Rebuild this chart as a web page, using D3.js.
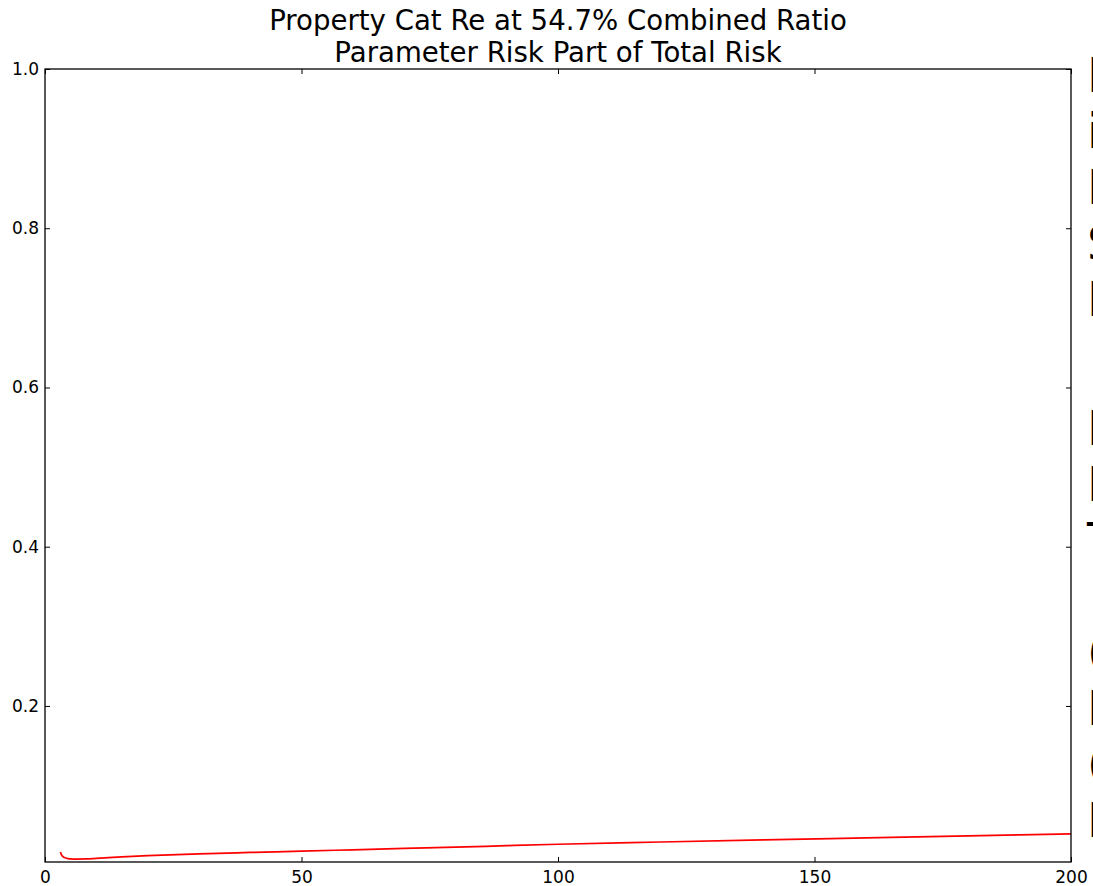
<!DOCTYPE html>
<html>
<head>
<meta charset="utf-8">
<script src="https://cdn.jsdelivr.net/npm/d3@7"></script>
<style>
  html, body { margin: 0; padding: 0; background: #fff; overflow: hidden; }
  svg { display: block; font-family: "DejaVu Sans", sans-serif; }
</style>
</head>
<body>
<svg id="chart" width="1093" height="886"></svg>
<script>
// Policy count (x) and parameter-risk share of total risk (y)
const policyCount = [3, 3.2, 3.5, 4, 4.5, 5, 6, 8, 10, 15, 20, 30, 40, 50, 60, 70, 80, 90, 100, 120, 140, 160, 180, 200];
const paramShare  = [0.0165, 0.0132, 0.0106, 0.0091, 0.0083, 0.0079, 0.0076, 0.0078, 0.0085, 0.0104, 0.0120, 0.0143, 0.0160, 0.0176, 0.0193, 0.0210, 0.0226, 0.0245, 0.0263, 0.0291, 0.0318, 0.0343, 0.0368, 0.0393];

const xTicks = [0, 50, 100, 150, 200];
const yTicks = [0.2, 0.4, 0.6, 0.8, 1.0];

const titleLines = ["Property Cat Re at 54.7% Combined Ratio", "Parameter Risk Part of Total Risk"];

// Side note text blocks running off the right edge of the figure
const noteBlockA = ["Parameter", "is", "Minor", "Share", "Here"];
const noteBlockB = ["Risk", "Rises", "To"];
const noteBlockC = ["(", "Based", "(", "Rows"];

const svg = d3.select("#chart");
const plot = { left: 45, right: 1071, top: 69, bottom: 862 };

const x = d3.scaleLinear().domain([0, 200]).range([plot.left, plot.right]);
const y = d3.scaleLinear().domain([0.004, 1.0]).range([plot.bottom, plot.top]);

// Title
svg.append("g").selectAll("text").data(titleLines).join("text")
  .attr("x", (plot.left + plot.right) / 2)
  .attr("y", (d, i) => 30 + i * 32)
  .attr("text-anchor", "middle")
  .attr("font-size", 27.6)
  .attr("fill", "#000")
  .text(d => d);

// Data line
const line = d3.line()
  .x((d, i) => x(policyCount[i]))
  .y(d => y(d))
  .curve(d3.curveMonotoneX);

svg.append("path")
  .datum(paramShare)
  .attr("fill", "none")
  .attr("stroke", "#ff0000")
  .attr("stroke-width", 1.7)
  .attr("d", line);

// Axes with inward ticks on all four sides
const tickLen = 5;
const fmtY = d3.format(".1f");

svg.append("g")
  .attr("transform", `translate(0,${plot.bottom})`)
  .call(d3.axisBottom(x).tickValues(xTicks).tickSize(-tickLen).tickPadding(9).tickFormat(d3.format("d")))
  .call(g => g.select(".domain").remove());

svg.append("g")
  .attr("transform", `translate(0,${plot.top})`)
  .call(d3.axisTop(x).tickValues(xTicks).tickSize(-tickLen).tickFormat(""))
  .call(g => g.select(".domain").remove());

svg.append("g")
  .attr("transform", `translate(${plot.left},0)`)
  .call(d3.axisLeft(y).tickValues(yTicks).tickSize(-tickLen).tickPadding(6).tickFormat(fmtY))
  .call(g => g.select(".domain").remove());

svg.append("g")
  .attr("transform", `translate(${plot.right},0)`)
  .call(d3.axisRight(y).tickValues(yTicks).tickSize(-tickLen).tickFormat(""))
  .call(g => g.select(".domain").remove());

svg.selectAll(".tick text")
  .attr("font-size", 17)
  .attr("font-family", "DejaVu Sans, sans-serif")
  .attr("fill", "#000");
svg.selectAll(".tick line").attr("stroke", "#000").attr("stroke-width", 1);

// Frame
svg.append("rect")
  .attr("x", plot.left).attr("y", plot.top)
  .attr("width", plot.right - plot.left)
  .attr("height", plot.bottom - plot.top)
  .attr("fill", "none")
  .attr("stroke", "#000")
  .attr("stroke-width", 1.3);

// Side notes
function noteBlock(lines, baseline) {
  svg.append("g").selectAll("text").data(lines).join("text")
    .attr("x", 1087)
    .attr("y", (d, i) => baseline + i * 56)
    .attr("font-size", 48)
    .attr("fill", "#000")
    .text(d => d);
}
noteBlock(noteBlockA, 92);
noteBlock(noteBlockB, 445);
noteBlock(noteBlockC, 669);
</script>
</body>
</html>
